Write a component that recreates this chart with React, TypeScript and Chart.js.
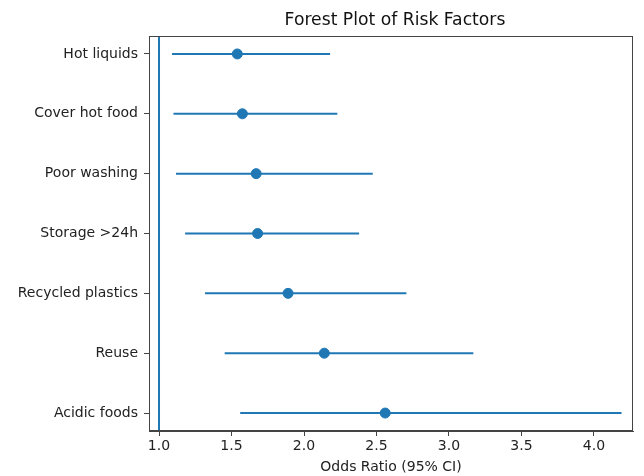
import React, { useEffect, useRef } from "react";
import { Chart, registerables } from "chart.js";

Chart.register(...registerables);

const categories = [
  "Hot liquids",
  "Cover hot food",
  "Poor washing",
  "Storage >24h",
  "Recycled plastics",
  "Reuse",
  "Acidic foods",
];
const oddsRatio = [1.54, 1.575, 1.67, 1.68, 1.89, 2.14, 2.56];
const ciLower = [1.09, 1.1, 1.117, 1.18, 1.317, 1.453, 1.56];
const ciUpper = [2.18, 2.23, 2.474, 2.38, 2.706, 3.168, 4.19];
const xTicks = [1.0, 1.5, 2.0, 2.5, 3.0, 3.5, 4.0];
const referenceLine = 1.0;
const chartTitle = "Forest Plot of Risk Factors";
const xAxisTitle = "Odds Ratio (95% CI)";

const BLUE = "#1f77b4";
const FONT = "'DejaVu Sans', sans-serif";

export default function App() {
  const canvasRef = useRef<HTMLCanvasElement | null>(null);

  useEffect(() => {
    if (!canvasRef.current) return;

    const ciDatasets = categories.map((c, i) => ({
      type: "line" as const,
      label: c,
      data: [
        { x: ciLower[i], y: i },
        { x: ciUpper[i], y: i },
      ],
      borderColor: BLUE,
      borderWidth: 2,
      pointRadius: 0,
      fill: false,
    }));

    const titlePlugin = {
      id: "axesTitle",
      afterDraw(chart: any) {
        const { ctx, chartArea } = chart;
        ctx.save();
        ctx.font = `17.2px ${FONT}`;
        ctx.fillStyle = "#111";
        ctx.textAlign = "center";
        ctx.textBaseline = "middle";
        ctx.fillText(chartTitle, (chartArea.left + chartArea.right) / 2 + 4, 21);
        ctx.restore();
      },
    };

    const framePlugin = {
      id: "frame",
      afterDraw(chart: any) {
        const { ctx, chartArea } = chart;
        ctx.save();
        ctx.strokeStyle = "#444";
        ctx.lineWidth = 1;
        ctx.strokeRect(
          Math.round(chartArea.left) + 0.5,
          Math.round(chartArea.top) + 0.5,
          Math.round(chartArea.right - chartArea.left) - 1,
          Math.round(chartArea.bottom - chartArea.top) - 1
        );
        ctx.restore();
      },
    };

    const chart = new Chart(canvasRef.current, {
      type: "scatter",
      data: {
        datasets: [
          {
            type: "line" as const,
            label: "ref",
            data: [
              { x: referenceLine, y: -0.3 },
              { x: referenceLine, y: 6.3 },
            ],
            borderColor: BLUE,
            borderWidth: 2,
            pointRadius: 0,
            fill: false,
          },
          ...ciDatasets,
          {
            type: "scatter" as const,
            label: "OR",
            data: oddsRatio.map((v, i) => ({ x: v, y: i })),
            backgroundColor: BLUE,
            borderColor: BLUE,
            pointRadius: 5,
            pointHoverRadius: 5,
          },
        ],
      } as any,
      options: {
        animation: false,
        responsive: false,
        maintainAspectRatio: false,
        layout: { padding: { top: 36, right: 11, left: 0, bottom: 0 } },
        plugins: {
          legend: { display: false },
          tooltip: { enabled: false },
          title: { display: false },
        },
        scales: {
          x: {
            type: "linear",
            min: 0.931,
            max: 4.269,
            afterBuildTicks(scale: any) {
              scale.ticks = xTicks.map((v) => ({ value: v }));
            },
            afterFit(scale: any) {
              scale.height = 45;
            },
            ticks: {
              font: { family: FONT, size: 14 },
              color: "#222",
              padding: 2,
              maxRotation: 0,
              callback: (v: any) => Number(v).toFixed(1),
            },
            grid: {
              drawOnChartArea: false,
              drawTicks: true,
              tickLength: 5,
              color: "#444",
            },
            border: { display: true, color: "#444" },
            title: {
              display: true,
              text: xAxisTitle,
              font: { family: FONT, size: 14 },
              color: "#222",
              padding: { top: 0, bottom: 0 },
            },
          },
          y: {
            type: "linear",
            min: -0.3,
            max: 6.3,
            reverse: true,
            afterBuildTicks(scale: any) {
              scale.ticks = categories.map((_, i) => ({ value: i }));
            },
            afterFit(scale: any) {
              scale.width = 149;
            },
            ticks: {
              font: { family: FONT, size: 14 },
              color: "#222",
              padding: 6,
              callback: (v: any) => categories[Number(v)] ?? "",
            },
            grid: {
              drawOnChartArea: false,
              drawTicks: true,
              tickLength: 5,
              color: "#444",
            },
            border: { display: true, color: "#444" },
          },
        },
      } as any,
      plugins: [titlePlugin, framePlugin],
    });

    return () => chart.destroy();
  }, []);

  return (
    <div style={{ position: "fixed", left: 0, top: 0, width: 644, height: 476, background: "#fff" }}>
      <canvas ref={canvasRef} width={644} height={476} style={{ width: 644, height: 476 }} />
    </div>
  );
}
